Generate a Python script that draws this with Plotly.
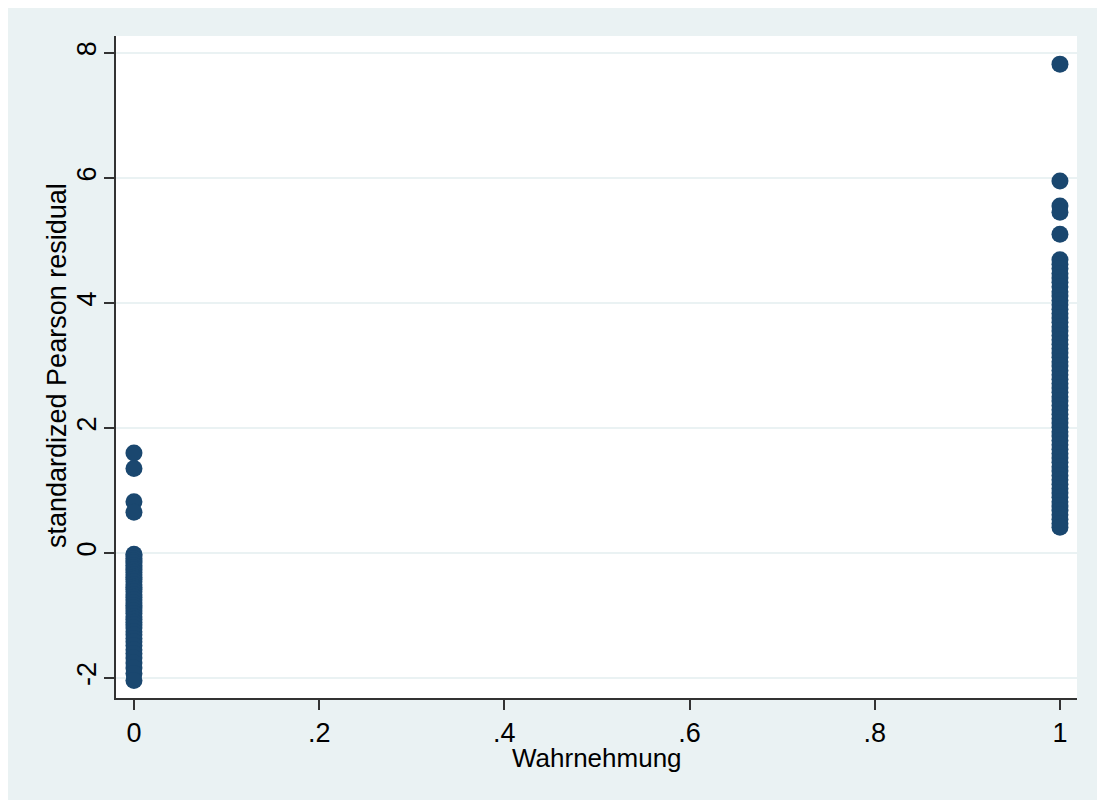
import plotly.graph_objects as go

# Outcome groups (Wahrnehmung) and their standardized Pearson residuals
wahrnehmung = [0, 1]
residuals_0 = [1.60, 1.35, 0.82, 0.65,
               -0.02, -0.05, -0.09, -0.13, -0.16, -0.20, -0.24, -0.27, -0.31,
               -0.35, -0.39, -0.42, -0.46, -0.51, -0.55, -0.58, -0.62, -0.67,
               -0.71, -0.75, -0.80, -0.84, -0.88, -0.93, -0.97, -1.02, -1.06,
               -1.11, -1.15, -1.20, -1.26, -1.31, -1.37, -1.42, -1.48, -1.55,
               -1.61, -1.68, -1.76, -1.84, -1.93, -2.04]
residuals_1 = [7.82, 5.95, 5.55, 5.45, 5.10,
               4.69, 4.62, 4.55, 4.47, 4.40, 4.33, 4.26, 4.18, 4.11, 4.04,
               3.97, 3.90, 3.83, 3.76, 3.69, 3.62, 3.55, 3.48, 3.41, 3.34,
               3.27, 3.20, 3.13, 3.06, 2.99, 2.92, 2.85, 2.78, 2.71, 2.64,
               2.57, 2.50, 2.43, 2.36, 2.29, 2.22, 2.15, 2.08, 2.01, 1.94,
               1.87, 1.80, 1.73, 1.66, 1.59, 1.52, 1.45, 1.38, 1.31, 1.24,
               1.17, 1.10, 1.03, 0.96, 0.89, 0.82, 0.75, 0.68, 0.61, 0.54,
               0.47, 0.41]

x_ticks = [0, 0.2, 0.4, 0.6, 0.8, 1]
x_ticklabels = ["0", ".2", ".4", ".6", ".8", "1"]
y_ticks = [-2, 0, 2, 4, 6, 8]
y_ticklabels = ["-2", "0", "2", "4", "6", "8"]

NAVY = "#1A476F"
BG = "#EAF2F3"
FONT = "Liberation Sans, Arial, sans-serif"

xs = [wahrnehmung[0]] * len(residuals_0) + [wahrnehmung[1]] * len(residuals_1)
ys = residuals_0 + residuals_1

fig = go.Figure(
    go.Scatter(
        x=xs, y=ys, mode="markers",
        marker=dict(size=17, color=NAVY, line=dict(width=0)),
        showlegend=False, hoverinfo="x+y",
    )
)

W, H = 1097, 800
ml, mr, mt, mb = 116, 20, 36, 102
pw, ph = W - ml - mr, H - mt - mb

def px_x(px):
    return (px - ml) / pw

def px_y(py):
    return (H - mb - py) / ph

fig.update_layout(
    width=W, height=H,
    margin=dict(l=ml, r=mr, t=mt, b=mb),
    paper_bgcolor=BG,
    plot_bgcolor="white",
    font=dict(family=FONT, size=27, color="black"),
    shapes=[
        # thin white frame strips on the top and left edges
        dict(type="rect", xref="paper", yref="paper", layer="below",
             x0=px_x(-20), x1=px_x(8), y0=px_y(H + 20), y1=px_y(-20),
             fillcolor="white", line=dict(width=0)),
        dict(type="rect", xref="paper", yref="paper", layer="below",
             x0=px_x(-20), x1=px_x(W + 20), y0=px_y(8), y1=px_y(-20),
             fillcolor="white", line=dict(width=0)),
    ],
    annotations=[
        dict(text="standardized Pearson residual", textangle=-90,
             xref="paper", yref="paper", x=px_x(57), y=px_y(366),
             xanchor="center", yanchor="middle", showarrow=False,
             font=dict(size=27, color="black")),
        dict(text="Wahrnehmung",
             xref="paper", yref="paper", x=px_x(597), y=px_y(758),
             xanchor="center", yanchor="middle", showarrow=False,
             font=dict(size=26, color="black")),
    ],
)

fig.update_xaxes(
    range=[-0.0194, 1.0184],
    tickvals=x_ticks, ticktext=x_ticklabels,
    showgrid=False, zeroline=False,
    showline=True, linecolor="#333333", linewidth=1.5,
    ticks="outside", ticklen=10, tickwidth=1.5, tickcolor="#333333",
    tickfont=dict(size=27),
)
fig.update_yaxes(
    range=[-2.32, 8.27],
    tickvals=y_ticks, ticktext=y_ticklabels, tickangle=-90,
    ticklabelstandoff=-3,
    showgrid=True, gridcolor=BG, gridwidth=2, zeroline=False,
    showline=True, linecolor="#333333", linewidth=1.5,
    ticks="outside", ticklen=10, tickwidth=1.5, tickcolor="#333333",
    tickfont=dict(size=27),
)

fig.write_html("out.html")
